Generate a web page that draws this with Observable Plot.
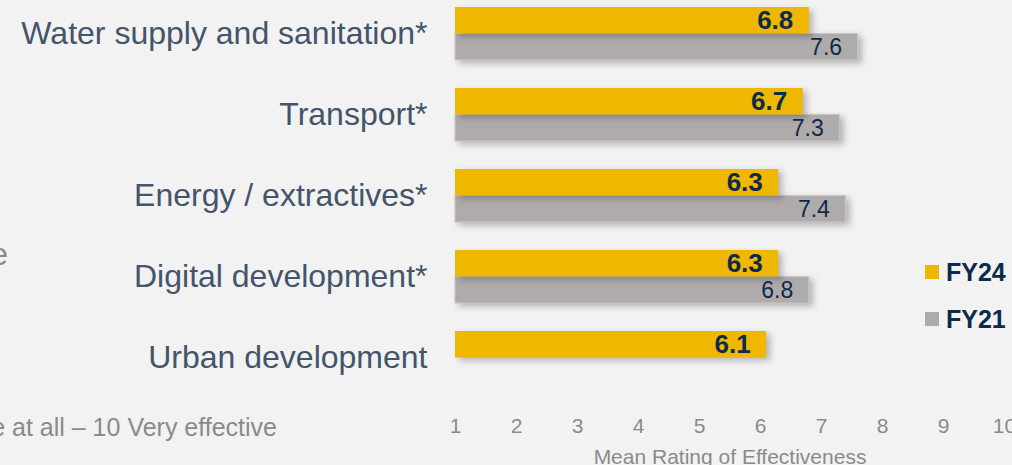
<!DOCTYPE html>
<html>
<head>
<meta charset="utf-8">
<script src="https://cdn.jsdelivr.net/npm/d3@7"></script>
<script src="https://cdn.jsdelivr.net/npm/@observablehq/plot@0.6"></script>
<style>
  html, body { margin: 0; padding: 0; background: #f2f2f2; overflow: hidden; }
  #wrap { position: relative; width: 1012px; height: 465px; overflow: hidden; font-family: "Liberation Sans", Arial, sans-serif; }
  #chart { position: absolute; left: 0; top: 0; }
  .note { position: absolute; color: #8a8a8a; text-align: right; white-space: nowrap; }
  #legend { position: absolute; left: 925px; top: 260px; color: #0c2a4a; font-weight: bold; font-size: 25px; }
  #legend .item { display: flex; align-items: center; height: 24px; margin-bottom: 23px; }
  #legend .sw { width: 14px; height: 14px; margin-right: 7px; }
</style>
</head>
<body>
<div id="wrap">
  <div id="chart"></div>
  <div class="note" style="left:-600px; width:608px; top:236px; font-size:32px; line-height:36px;">*Statistically significant difference</div>
  <div class="note" style="left:-500px; width:777px; top:413px; font-size:25px; line-height:28px;">Scale: 1 Not effective at all – 10 Very effective</div>
  <div id="legend"></div>
</div>
<script>
const categories = ["Water supply and sanitation*", "Transport*", "Energy / extractives*", "Digital development*", "Urban development"];
const fy24 = [6.8, 6.7, 6.3, 6.3, 6.1];
const fy21 = [7.6, 7.3, 7.4, 6.8, null];
const seriesNames = ["FY24", "FY21"];
const seriesColors = ["#efb700", "#afabab"];
const xTicks = [1, 2, 3, 4, 5, 6, 7, 8, 9, 10];
const xTitle = "Mean Rating of Effectiveness";

const rows24 = categories.map((c, i) => ({category: c, value: fy24[i]}));
const rows21 = categories.map((c, i) => ({category: c, value: fy21[i]})).filter(d => d.value != null);
const xMin = xTicks[0];
const font = "Liberation Sans, Arial, sans-serif";

const chart = Plot.plot({
  width: 1012,
  height: 465,
  marginTop: 5,
  marginBottom: 80,
  marginLeft: 455,
  marginRight: 8,
  style: {background: "transparent", fontFamily: font, overflow: "visible"},
  x: {domain: [xTicks[0], xTicks[xTicks.length - 1]]},
  y: {domain: categories, paddingInner: 0.35, paddingOuter: 0},
  marks: [
    Plot.axisY({tickSize: 0, tickPadding: 28, fontSize: 32, fill: "#44546a", label: null}),
    Plot.axisX({ticks: xTicks, tickSize: 0, tickPadding: 33, fontSize: 21, fill: "#8a8a8a",
      tickFormat: d => String(d), label: xTitle, labelAnchor: "center", labelArrow: "none", labelOffset: 78}),
    Plot.barX(rows21, {x1: () => xMin, x2: "value", y: "category", fill: seriesColors[1], insetTop: 26.5, stroke: "#c9c6c6", strokeWidth: 1}),
    Plot.barX(rows24, {x1: () => xMin, x2: "value", y: "category", fill: seriesColors[0], insetBottom: 26.5}),
    Plot.text(rows24, {x: "value", y: "category", text: d => d.value.toFixed(1), textAnchor: "end", dx: -16, dy: -13,
      fontSize: 26, fontWeight: "bold", fill: "#0c2a4a"}),
    Plot.text(rows21, {x: "value", y: "category", text: d => d.value.toFixed(1), textAnchor: "end", dx: -16, dy: 14,
      fontSize: 23, fill: "#0c2a4a"})
  ]
});
document.getElementById("chart").appendChild(chart);

const bars = chart.querySelectorAll('g[aria-label="bar"]');
bars.forEach(g => g.style.filter = "drop-shadow(4px 3px 3px rgba(0,0,0,0.25))");

const legend = document.getElementById("legend");
seriesNames.forEach((name, i) => {
  const item = document.createElement("div");
  item.className = "item";
  item.innerHTML = `<span class="sw" style="background:${seriesColors[i]}"></span><span>${name}</span>`;
  legend.appendChild(item);
});
</script>
</body>
</html>
